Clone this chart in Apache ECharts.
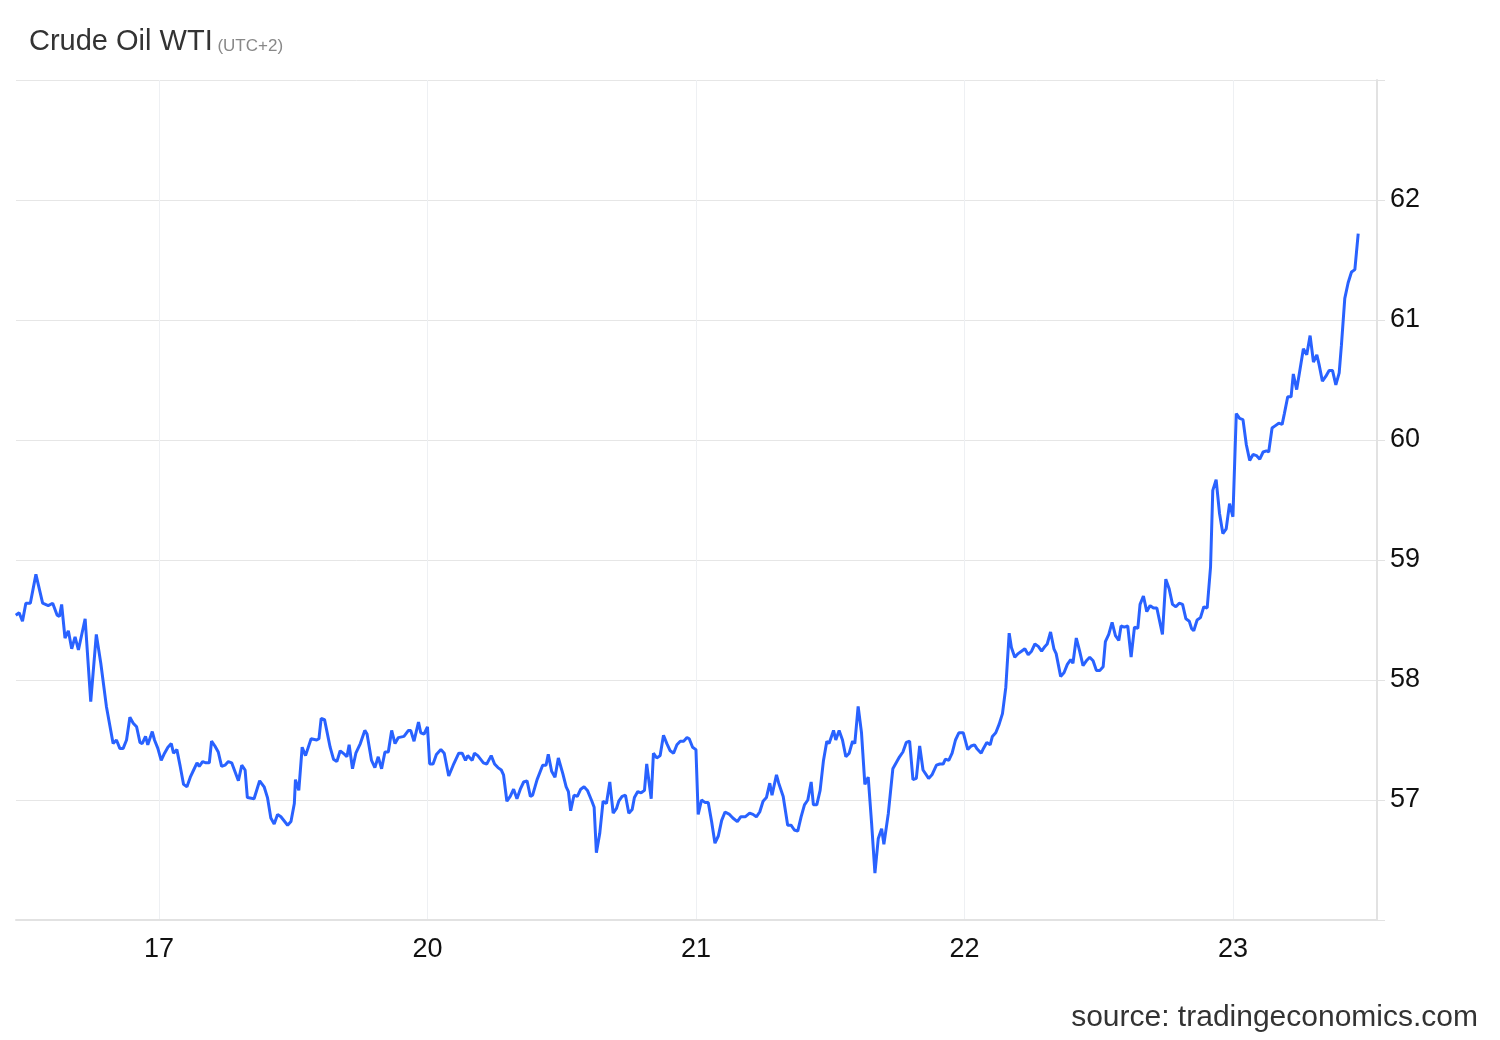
<!DOCTYPE html>
<html>
<head>
<meta charset="utf-8">
<script src="https://cdn.jsdelivr.net/npm/echarts@6/dist/echarts.min.js"></script>
<style>
html,body{margin:0;padding:0;background:#fff;}
#chart{width:1500px;height:1040px;}
</style>
</head>
<body>
<div id="chart"></div>
<script>
// Hours since 17th 00:00 (trading days only, each trading day = 24 h)
const hours = [
-12.8,-12.5,-12.2,-11.9,-11.5,-11.0,-10.4,-9.9,-9.5,-9.1,-8.9,-8.7,-8.4,-8.1,-7.8,-7.5,-7.2,-6.6,-6.1,-5.6,
-5.2,-4.7,-4.1,-3.8,-3.5,-3.2,-2.9,-2.6,-2.3,-2.0,-1.7,-1.5,-1.2,-1.0,-0.6,-0.4,-0.1,0.2,0.5,0.8,
1.1,1.3,1.6,1.9,2.2,2.5,2.8,3.1,3.4,3.6,3.9,4.2,4.5,4.7,5.0,5.3,5.6,5.9,6.2,6.5,
7.1,7.4,7.7,7.9,8.5,9.0,9.4,9.7,10.0,10.3,10.6,10.9,11.5,11.8,12.1,12.2,12.5,12.8,13.1,13.6,
14.1,14.3,14.5,14.8,15.3,15.6,15.9,16.2,16.6,16.8,17.0,17.3,17.6,18.0,18.4,18.6,19.0,19.3,19.6,19.9,
20.2,20.5,20.8,21.1,21.4,21.9,22.3,22.5,22.8,23.2,23.4,23.7,24.0,24.2,24.5,24.8,25.2,25.5,25.9,
26.3,26.8,27.1,27.4,27.6,28.0,28.2,28.5,29.0,29.3,29.7,30.0,30.3,30.6,30.8,31.1,31.4,31.7,32.0,32.3,
32.6,32.9,33.2,33.4,33.8,34.3,34.6,34.8,35.1,35.4,35.7,36.1,36.4,36.6,36.8,37.1,37.4,37.7,38.0,38.3,
38.7,38.9,39.1,39.4,39.7,40.0,40.3,40.6,40.9,41.1,41.4,41.7,42.0,42.3,42.5,42.8,43.1,43.4,43.6,44.0,
44.2,44.5,44.8,45.1,45.4,45.7,46.0,46.3,46.6,46.9,47.2,47.4,47.7,48.0,48.2,48.5,48.8,49.1,49.4,49.7,
50.0,50.3,50.6,51.0,51.3,51.7,52.0,52.4,52.8,53.1,53.4,53.7,54.0,54.3,54.6,54.8,55.2,55.4,55.8,56.2,
56.5,56.8,57.1,57.4,57.7,58.0,58.3,58.5,58.8,59.1,59.4,59.7,59.9,60.3,60.5,60.8,61.1,61.4,61.7,62.0,
62.2,62.5,62.8,63.1,63.4,63.7,64.0,64.3,64.6,64.8,65.2,65.6,65.9,66.2,66.5,66.8,67.1,67.4,67.7,68.0,
68.3,68.8,69.1,69.5,69.8,70.1,70.3,70.6,70.9,71.2,71.5,71.9,72.3,72.6,72.9,73.1,73.5,73.7,74.0,74.3,
74.5,74.8,75.1,75.4,75.7,76.0,76.2,76.5,76.8,77.1,77.4,77.7,78.0,78.3,78.6,78.9,79.2,79.4,79.7,80.0,
80.2,80.6,80.9,81.2,81.5,81.7,82.0,82.3,82.6,82.9,83.2,83.5,83.8,84.1,84.4,84.6,84.9,85.2,85.5,85.8,
86.0,86.3,86.6,86.9,87.2,87.5,87.7,88.0,88.3,88.6,88.9,89.2,89.7,90.0,90.3,90.6,90.9,91.2,91.5,91.8,
92.1,92.3,92.5,92.8,93.1,93.4,93.7,94.0,94.2,94.5,94.8,95.1,95.4,95.7,96.0,96.3,96.6,96.9,97.2,97.5,
97.8,98.1,98.4,98.7,99.0,99.2,99.5,99.8,100.1,100.4,100.6,100.9,101.2,101.4,101.7,102.0,102.3,102.6,102.9,103.2,
103.5,103.7,104.0,104.3,104.6,104.9,105.2,105.5,105.7,106.0,106.3,106.6,106.9,107.2
];
const prices = [
58.54,58.56,58.49,58.64,58.64,58.88,58.64,58.62,58.64,58.54,58.53,58.63,58.35,58.41,58.26,58.36,58.25,58.51,57.82,58.38,
58.14,57.78,57.47,57.50,57.43,57.43,57.50,57.69,57.64,57.61,57.48,57.47,57.53,57.46,57.57,57.50,57.43,57.33,57.39,57.44,
57.47,57.39,57.42,57.28,57.13,57.11,57.19,57.25,57.31,57.28,57.32,57.31,57.31,57.49,57.45,57.40,57.28,57.29,57.32,57.31,
57.16,57.29,57.25,57.02,57.01,57.16,57.11,57.02,56.85,56.80,56.88,56.86,56.79,56.82,56.97,57.17,57.08,57.44,57.37,57.51,
57.50,57.51,57.68,57.67,57.44,57.34,57.32,57.41,57.38,57.36,57.46,57.26,57.39,57.47,57.58,57.55,57.33,57.27,57.36,57.26,
57.40,57.40,57.58,57.47,57.52,57.53,57.58,57.58,57.49,57.65,57.56,57.55,57.61,57.30,57.30,57.38,57.42,57.39,57.20,
57.29,57.39,57.39,57.33,57.37,57.33,57.39,57.37,57.31,57.30,57.37,57.30,57.27,57.25,57.21,56.99,57.03,57.09,57.01,57.09,
57.15,57.16,57.03,57.04,57.17,57.29,57.29,57.38,57.24,57.19,57.35,57.22,57.11,57.07,56.91,57.04,57.03,57.09,57.11,57.08,
56.99,56.94,56.56,56.72,56.99,56.97,57.15,56.89,56.93,56.99,57.03,57.04,56.89,56.92,57.02,57.07,57.06,57.08,57.30,57.01,
57.39,57.35,57.37,57.54,57.47,57.41,57.39,57.46,57.49,57.49,57.52,57.51,57.44,57.42,56.88,57.00,56.98,56.98,56.82,56.64,
56.70,56.83,56.90,56.88,56.85,56.82,56.86,56.86,56.89,56.88,56.86,56.90,56.99,57.02,57.14,57.04,57.21,57.14,57.03,56.79,
56.79,56.75,56.74,56.86,56.96,57.00,57.15,56.96,56.96,57.08,57.33,57.49,57.47,57.58,57.50,57.58,57.50,57.36,57.39,57.49,
57.47,57.78,57.56,57.13,57.19,56.81,56.39,56.68,56.76,56.63,56.89,57.26,57.31,57.36,57.40,57.48,57.49,57.17,57.18,57.45,
57.25,57.18,57.21,57.29,57.30,57.30,57.34,57.33,57.39,57.50,57.56,57.56,57.42,57.45,57.46,57.43,57.39,57.43,57.48,57.46,
57.53,57.56,57.63,57.72,57.94,58.39,58.27,58.19,58.22,58.24,58.26,58.21,58.24,58.30,58.28,58.24,58.28,58.30,58.40,58.26,
58.22,58.03,58.06,58.13,58.17,58.14,58.35,58.24,58.12,58.16,58.19,58.16,58.08,58.08,58.11,58.32,58.38,58.48,58.37,58.33,
58.45,58.44,58.45,58.19,58.44,58.43,58.63,58.70,58.57,58.62,58.60,58.60,58.38,58.84,58.76,58.63,58.61,58.64,58.63,58.51,
58.49,58.43,58.41,58.50,58.52,58.61,58.60,58.94,59.58,59.67,59.39,59.22,59.26,59.47,59.36,60.22,60.18,60.17,59.96,59.83,
59.88,59.87,59.84,59.90,59.91,59.90,60.10,60.12,60.14,60.13,60.22,60.36,60.36,60.55,60.42,60.59,60.76,60.71,60.87,60.65,
60.71,60.63,60.49,60.53,60.58,60.58,60.46,60.56,60.79,61.18,61.31,61.40,61.42,61.72
];
const dayTicks = [0, 24, 48, 72, 96];
const dayLabels = ['17', '20', '21', '22', '23'];
const yTickLabels = [57, 58, 59, 60, 61, 62];

const seriesData = hours.map((h, i) => [h, prices[i]]);

const chart = echarts.init(document.getElementById('chart'), null, {renderer: 'canvas'});
const FONT = '"Liberation Sans", Arial, sans-serif';
chart.setOption({
  animation: false,
  backgroundColor: '#ffffff',
  title: {
    text: '{a|Crude Oil WTI}{b| (UTC+2)}',
    left: 24,
    top: 22,
    textStyle: {
      rich: {
        a: {fontSize: 29, fontWeight: 'normal', color: '#333333', fontFamily: FONT},
        b: {fontSize: 17, fontWeight: 'normal', color: '#888888', fontFamily: FONT, padding: [9, 0, 0, 0]}
      }
    }
  },
  graphic: [{
    type: 'text',
    right: 22,
    top: 1003,
    style: {
      text: 'source: tradingeconomics.com',
      fontSize: 30,
      fill: '#333333',
      fontFamily: FONT
    }
  }],
  grid: {left: 16, right: 123, top: 80, bottom: 120},
  xAxis: {
    type: 'value',
    min: -12.78,
    max: 108.88,
    axisLine: {show: true, onZero: false, lineStyle: {color: '#e2e2e2', width: 2}},
    axisTick: {show: false, customValues: dayTicks},
    axisLabel: {
      customValues: dayTicks,
      fontSize: 27,
      color: '#111111',
      fontFamily: FONT,
      margin: 16,
      formatter: v => {
        const i = dayTicks.indexOf(Math.round(v));
        return i >= 0 ? dayLabels[i] : '';
      }
    },
    splitLine: {show: true, lineStyle: {color: '#eef0f3', width: 1}}
  },
  yAxis: {
    type: 'value',
    position: 'right',
    min: 56,
    max: 63,
    interval: 1,
    axisLine: {show: true, onZero: false, lineStyle: {color: '#e2e2e2', width: 2}},
    axisTick: {show: true, length: 8, lineStyle: {color: '#e2e2e2', width: 1}},
    axisLabel: {
      fontSize: 27,
      color: '#111111',
      fontFamily: FONT,
      margin: 13,
      formatter: v => yTickLabels.indexOf(v) >= 0 ? String(v) : ''
    },
    splitLine: {show: true, lineStyle: {color: '#e6e6e6', width: 1}}
  },
  series: [{
    type: 'line',
    data: seriesData,
    showSymbol: false,
    symbol: 'none',
    lineStyle: {color: '#2962ff', width: 3},
    z: 3
  }]
});
</script>
</body>
</html>
